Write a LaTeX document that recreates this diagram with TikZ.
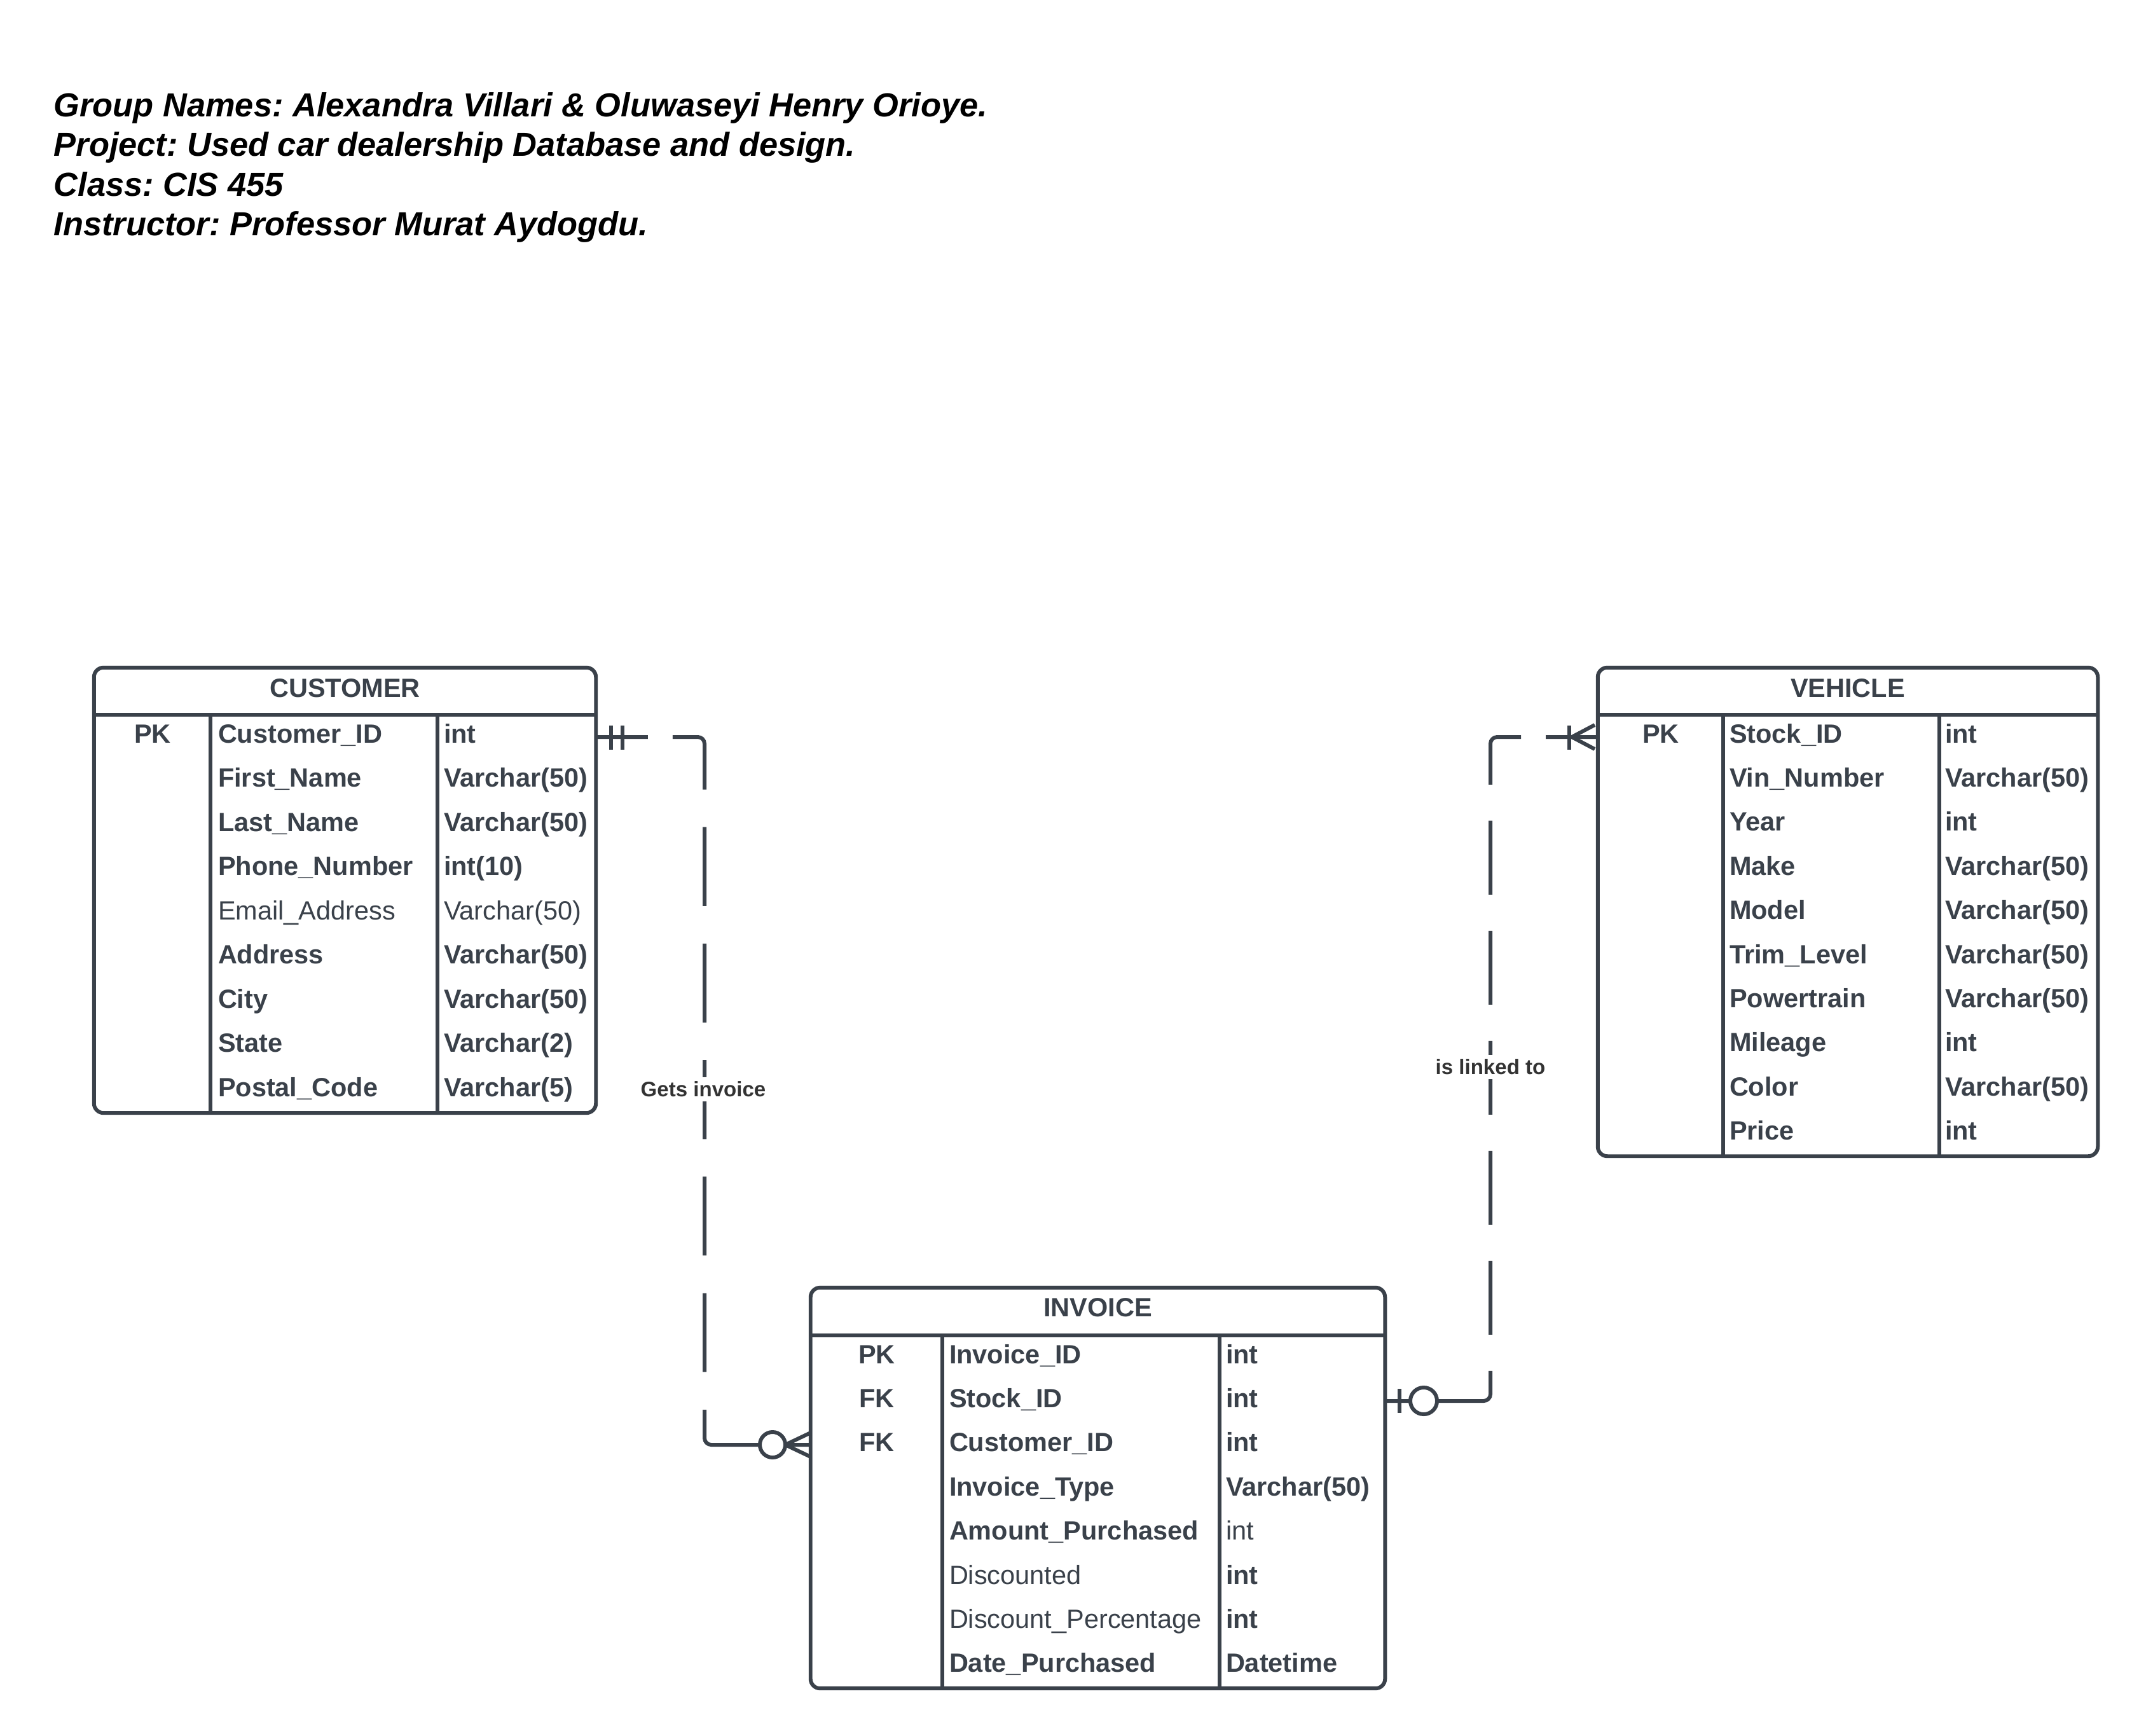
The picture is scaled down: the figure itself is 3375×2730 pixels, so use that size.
\documentclass[tikz,border=0pt]{standalone}
\usepackage{fontspec}
\setmainfont{Liberation Sans}
\frenchspacing
\definecolor{ink}{RGB}{58,65,74}
\definecolor{lbl}{RGB}{51,51,51}
\tikzset{
  tbl/.style={draw=ink, line width=1.7pt, rounded corners=4.3pt, inner sep=0pt, outer sep=0pt},
  rulel/.style={draw=ink, line width=1.7pt},
  txt/.style={inner sep=0pt, outer sep=0pt, text=ink, font=\fontsize{11.8pt}{14pt}\selectfont},
  ttl/.style={txt, anchor=base, font=\fontsize{11.8pt}{14pt}\selectfont\bfseries},
  fld/.style={txt, anchor=base west},
  keyf/.style={txt, anchor=base, font=\fontsize{11.8pt}{14pt}\selectfont\bfseries},
  conn/.style={draw=ink, line width=1.7pt, rounded corners=3pt},
  crow/.style={draw=ink, line width=1.7pt},
  rel/.style={font=\fontsize{9.4pt}{11pt}\selectfont\bfseries, text=lbl, fill=white, inner sep=2pt},
  head/.style={anchor=base west, inner sep=0pt, text=black, font=\fontsize{14.9pt}{18pt}\selectfont\bfseries\itshape}
}
\begin{document}
\begin{tikzpicture}[x=0.01cm,y=-0.01cm]
\fill[white] (0,0) rectangle (3375,2730);
\useasboundingbox (0,0) rectangle (3375,2730);

% heading
\node[head] (h1) at (84,183) {Group Names: Alexandra Villari \& Oluwaseyi Henry Orioye.};
\node[head] (h2) at (84,245.5) {Project: Used car dealership Database and design.};
\node[head] (h3) at (84,308) {Class: CIS 455};
\node[head] (h4) at (84,370.5) {Instructor: Professor Murat Aydogdu.};

% connectors
\coordinate (c1s) at (937,1159);
\coordinate (c1e) at (1275,2272);
\draw[conn, dash pattern=on 23.3pt off 11.1pt on 36.4pt off 16.8pt on 35.3pt off 16.8pt on 35.3pt off 16.8pt on 35.3pt off 16.8pt on 35.3pt off 16.8pt on 35.3pt off 16.8pt on 500pt]
  (c1s) -- (1108,1159) -- (1108,2272) -- (c1e);
\coordinate (c2s) at (2513,1159);
\coordinate (c2e) at (2178,2203);
\draw[conn, dash pattern=on 23.3pt off 11.1pt on 33.6pt off 16.2pt on 33pt off 16.2pt on 33pt off 16.2pt on 33pt off 16.2pt on 33pt off 16.2pt on 33pt off 16.2pt on 500pt]
  (c2s) -- (2344,1159) -- (2344,2203) -- (c2e);
\node[rel] (lab1) at (1106,1713) {Gets invoice};
\node[rel] (lab2) at (2344,1678) {is linked to};

% end markers
\draw[crow] (961,1141) -- (961,1179);
\draw[crow] (979,1141) -- (979,1179);
\draw[crow] (1275,2253) -- (1235,2272) -- (1275,2291);
\draw[crow, fill=white] (1215,2272) circle (0.2cm);
\draw[crow] (2468,1141) -- (2468,1179);
\draw[crow] (2508,1140) -- (2472,1159) -- (2508,1178);
\draw[crow] (2201,2184) -- (2201,2222);
\draw[crow, fill=white] (2239,2203) circle (0.21cm);

% CUSTOMER
\node[tbl, minimum width=7.89cm, minimum height=7cm] (cust) at (542.5,1400) {};
\draw[rulel] (148,1124) -- (937,1124);
\draw[rulel] (331,1124) -- (331,1750);
\draw[rulel] (688,1124) -- (688,1750);
\node[ttl] (custt) at (542.5,1096) {CUSTOMER};
\node[keyf] (custk) at (240,1168) {PK};
\foreach \nm/\ty/\fa [count=\i from 0] in {
  Customer\_ID/int/\bfseries,
  First\_Name/Varchar(50)/\bfseries,
  Last\_Name/Varchar(50)/\bfseries,
  Phone\_Number/int(10)/\bfseries,
  Email\_Address/Varchar(50)/\mdseries,
  Address/Varchar(50)/\bfseries,
  City/Varchar(50)/\bfseries,
  State/Varchar(2)/\bfseries,
  Postal\_Code/Varchar(5)/\bfseries}{
  \node[fld] (cn\i) at (343,1168+69.5*\i) {\fa\nm};
  \node[fld] (ct\i) at (698,1168+69.5*\i) {\fa\ty};
}

% VEHICLE
\node[tbl, minimum width=7.86cm, minimum height=7.68cm] (veh) at (2906,1434) {};
\draw[rulel] (2513,1124) -- (3299,1124);
\draw[rulel] (2710,1124) -- (2710,1818);
\draw[rulel] (3050,1124) -- (3050,1818);
\node[ttl] (veht) at (2906,1096) {VEHICLE};
\node[keyf] (vehk) at (2612,1168) {PK};
\foreach \nm/\ty [count=\i from 0] in {
  Stock\_ID/int,
  Vin\_Number/Varchar(50),
  Year/int,
  Make/Varchar(50),
  Model/Varchar(50),
  Trim\_Level/Varchar(50),
  Powertrain/Varchar(50),
  Mileage/int,
  Color/Varchar(50),
  Price/int}{
  \node[fld] (vn\i) at (2720,1168+69.4*\i) {\bfseries\nm};
  \node[fld] (vt\i) at (3059,1168+69.4*\i) {\bfseries\ty};
}

% INVOICE
\node[tbl, minimum width=9.03cm, minimum height=6.3cm] (inv) at (1726.5,2340) {};
\draw[rulel] (1275,2100) -- (2178,2100);
\draw[rulel] (1482,2100) -- (1482,2655);
\draw[rulel] (1918,2100) -- (1918,2655);
\node[ttl] (invt) at (1726.5,2070) {INVOICE};
\node[keyf] (invk0) at (1379,2144) {PK};
\node[keyf] (invk1) at (1379,2213.4) {FK};
\node[keyf] (invk2) at (1379,2282.8) {FK};
\foreach \nm/\ty/\fa/\fb [count=\i from 0] in {
  Invoice\_ID/int/\bfseries/\bfseries,
  Stock\_ID/int/\bfseries/\bfseries,
  Customer\_ID/int/\bfseries/\bfseries,
  Invoice\_Type/Varchar(50)/\bfseries/\bfseries,
  Amount\_Purchased/int/\bfseries/\mdseries,
  Discounted/int/\mdseries/\bfseries,
  Discount\_Percentage/int/\mdseries/\bfseries,
  Date\_Purchased/Datetime/\bfseries/\bfseries}{
  \node[fld] (in\i) at (1493,2144+69.4*\i) {\fa\nm};
  \node[fld] (it\i) at (1928,2144+69.4*\i) {\fb\ty};
}
\end{tikzpicture}
\end{document}
